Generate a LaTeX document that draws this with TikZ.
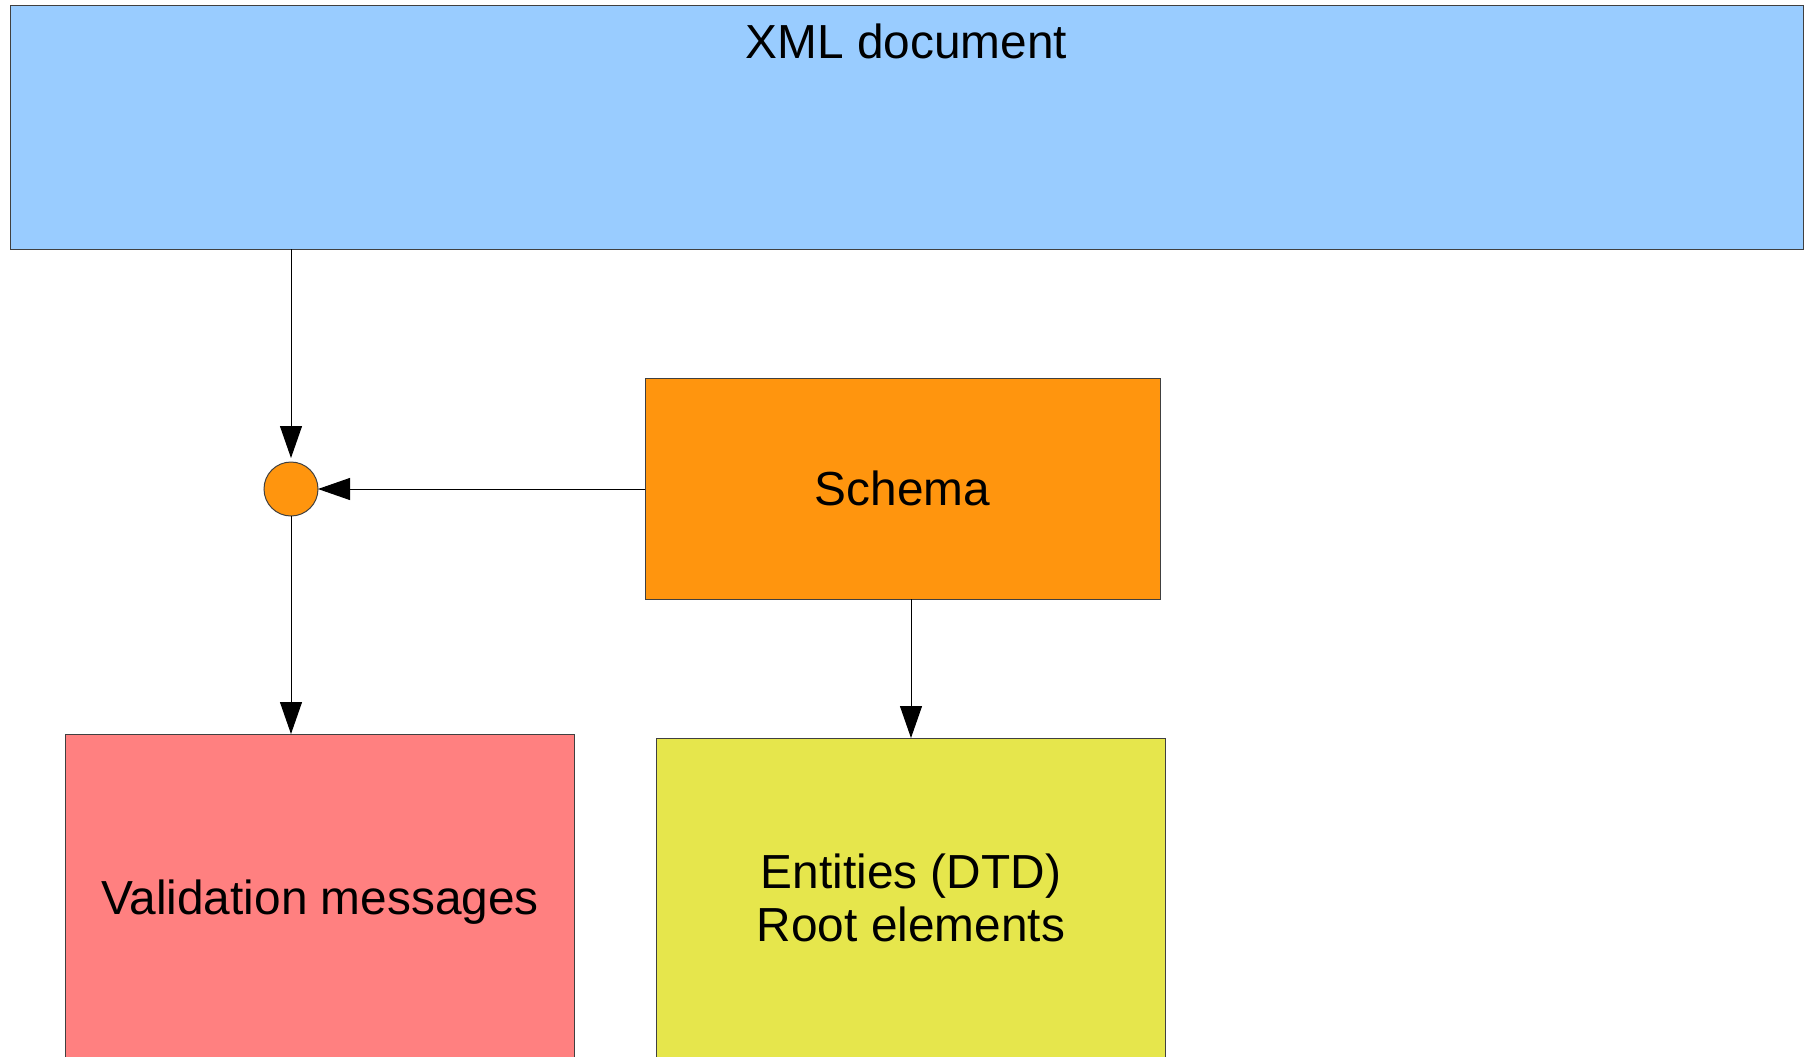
\documentclass[tikz,border=0pt]{standalone}
\usepackage{fontspec}
\setmainfont{Liberation Sans}
\usepackage{tikz}
\usetikzlibrary{arrows.meta}

\definecolor{xmlblue}{HTML}{99CCFF}
\definecolor{schemaorange}{HTML}{FF950E}
\definecolor{msgred}{HTML}{FF8080}
\definecolor{entyellow}{HTML}{E6E64C}

\begin{document}
\begin{tikzpicture}[x=0.5pt,y=-0.5pt,
   box/.style={draw=black!75,line width=0.5pt,inner sep=0pt,outer sep=0pt,
      font=\fontsize{23.9}{26.5}\selectfont,align=center},
   flow/.style={-{Triangle[length=16pt,width=11pt]},line width=0.5pt,black}]
\useasboundingbox (0,0) rectangle (1806,1056);
\node[box,fill=xmlblue,minimum width=896.5pt,minimum height=122pt,
   label={[anchor=north,yshift=-9pt,inner sep=0pt,font=\fontsize{23.9}{26.5}\selectfont]north:XML document}]
   (xml) at (906.5,127) {};
\node[box,fill=schemaorange,minimum width=257.5pt,minimum height=110.5pt] (schema) at (902.5,488.5) {Schema};
\node[box,circle,fill=schemaorange,minimum size=27pt] (check) at (291,489) {};
\node[box,fill=msgred,minimum width=254.5pt,minimum height=168pt] (msgs) at (320,902) {Validation messages};
\node[box,fill=entyellow,minimum width=254.5pt,minimum height=160pt] (ents) at (911,898) {Entities (DTD)\\Root elements};
\draw[flow,shorten >=2pt] (xml.south -| check.north) -- (check.north);
\draw[flow] (schema.west |- check.east) -- (check.east);
\draw[flow] (check.south) -- (msgs.north -| check.south);
\draw[flow] (schema.south -| ents.north) -- (ents.north);
\end{tikzpicture}
\end{document}
